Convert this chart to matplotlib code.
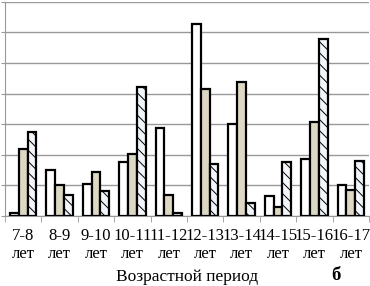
import numpy as np
from matplotlib import pyplot as plt

# age groups
ages = ['7-8', '8-9', '9-10', '10-11', '11-12', '12-13', '13-14', '14-15', '15-16', '16-17']
labels = [a + '\nлет' for a in ages]

# three series (grid units)
series_white = [0.1, 1.49, 1.06, 1.76, 2.87, 6.27, 3.0, 0.64, 1.87, 1.02]
series_beige = [2.2, 1.02, 1.43, 2.04, 0.68, 4.15, 4.39, 0.28, 3.06, 0.84]
series_hatch = [2.75, 0.70, 0.81, 4.23, 0.1, 1.71, 0.42, 1.76, 5.77, 1.79]

plt.rcParams['font.family'] = ['Liberation Serif', 'DejaVu Serif']
plt.rcParams['hatch.color'] = '#8fa2ba'
plt.rcParams['hatch.linewidth'] = 0.7

fig = plt.figure(figsize=(3.7, 2.86), dpi=100)
ax = fig.add_axes([5/370, 70/286, 364/370, 214.3/286])

x = np.arange(len(ages))
w = 0.24
ax.bar(x - w, series_white, w, color='white', edgecolor='black', linewidth=1.6, zorder=3)
ax.bar(x, series_beige, w, color='#ddd8c3', edgecolor='black', linewidth=1.6, zorder=3)
ax.bar(x + w, series_hatch, w, color='#f2f5fa', edgecolor='black', linewidth=1.6,
       hatch='\\\\\\', zorder=3)

ax.set_xlim(-0.5, len(ages) - 0.5)
ax.set_ylim(0, 7)
ax.set_yticks(range(8))
ax.set_yticklabels([])
ax.tick_params(axis='y', length=3, color='#999999')
ax.grid(axis='y', color='#999999', linewidth=1.0, zorder=0)

ax.set_xticks(x)
ax.set_xticklabels(labels, fontsize=12, linespacing=1.15)
ax.tick_params(axis='x', which='major', length=0, pad=9)
ax.set_xticks(np.arange(len(ages) + 1) - 0.5, minor=True)
ax.tick_params(axis='x', which='minor', length=4, color='#999999')

for s in ['top', 'right']:
    ax.spines[s].set_visible(False)
ax.spines['left'].set_color('#999999')
ax.spines['bottom'].set_color('#999999')

ax.set_xlabel('Возрастной период', fontsize=12.5, labelpad=5)
fig.text(336/370, 1 - 275/286, 'б', fontsize=13.5, fontweight='bold', ha='center', va='center')

plt.savefig('out.png', dpi=100)
